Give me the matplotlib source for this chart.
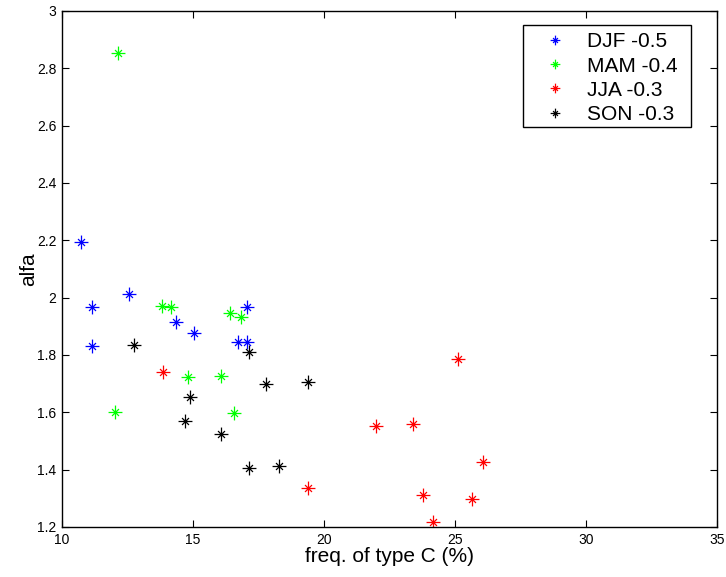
import matplotlib
matplotlib.use("Agg")
import matplotlib.pyplot as plt
from matplotlib.path import Path
from matplotlib.patches import Rectangle
from matplotlib.ticker import FuncFormatter

plt.rcParams['font.family'] = ['Liberation Sans', 'DejaVu Sans']

labels = ["DJF -0.5", "MAM -0.4", "JJA -0.3", "SON -0.3"]
colors = ["#0000ff", "#00ff00", "#ff0000", "#000000"]

djf_x = [10.71, 11.13, 11.13, 12.56, 14.35, 15.03, 17.05, 16.71, 17.05]
djf_y = [2.193, 1.967, 1.832, 2.012, 1.916, 1.877, 1.968, 1.844, 1.844]

mam_x = [12.15, 13.82, 14.16, 16.42, 16.83, 12.02, 14.82, 16.08, 16.56]
mam_y = [2.852, 1.972, 1.967, 1.947, 1.933, 1.601, 1.723, 1.728, 1.597]

jja_x = [13.85, 19.40, 25.11, 21.97, 23.39, 26.08, 23.77, 25.66, 24.15]
jja_y = [1.740, 1.337, 1.786, 1.551, 1.559, 1.428, 1.313, 1.298, 1.218]

son_x = [12.76, 17.14, 17.77, 19.39, 14.87, 14.69, 16.08, 17.14, 18.29]
son_y = [1.836, 1.811, 1.699, 1.705, 1.655, 1.570, 1.525, 1.405, 1.413]

series_x = [djf_x, mam_x, jja_x, son_x]
series_y = [djf_y, mam_y, jja_y, son_y]

# MATLAB-like asterisk: long +, shorter x
d = 0.5
verts = [(-1, 0), (1, 0), (0, -1), (0, 1), (-d, -d), (d, d), (-d, d), (d, -d)]
codes = [Path.MOVETO, Path.LINETO] * 4
ast = Path(verts, codes)

fig = plt.figure(figsize=(7.26, 5.77), dpi=100)
ax = fig.add_axes([62/726, 1-527/577, 655/726, 516/577])

for xs, ys, c, lab in zip(series_x, series_y, colors, labels):
    ax.plot(xs, ys, linestyle='none', marker=ast, markersize=10,
            markeredgecolor=c, markerfacecolor='none', markeredgewidth=0.9,
            label=lab)

ax.set_xlim(10, 35)
ax.set_ylim(1.2, 3.0)
ax.set_xticks([10, 15, 20, 25, 30, 35])
ax.set_yticks([1.2, 1.4, 1.6, 1.8, 2.0, 2.2, 2.4, 2.6, 2.8, 3.0])
ax.yaxis.set_major_formatter(FuncFormatter(lambda v, p: "%g" % round(v, 2)))
ax.tick_params(direction='in', top=True, right=True, length=5, width=0.8,
               labelsize=10, pad=4)
for s in ax.spines.values():
    s.set_linewidth(1.0)

ax.set_xlabel("freq. of type C (%)", fontsize=15, labelpad=0)
ax.set_ylabel("alfa", fontsize=15, labelpad=-1)

# legend box (drawn as a rectangle, like MATLAB's)
bx0, bx1 = (523 - 62) / 655, (691 - 62) / 655
by1, by0 = (527 - 25) / 516, (527 - 127) / 516
ax.add_patch(Rectangle((bx0, by0), bx1 - bx0, by1 - by0, transform=ax.transAxes,
                       facecolor='white', edgecolor='black', linewidth=1.0,
                       zorder=4))

leg = ax.legend(loc='upper left', bbox_to_anchor=(bx0, by1),
                borderaxespad=0, fontsize=15, frameon=False,
                markerscale=0.7, handlelength=2.37,
                handletextpad=0.35, labelspacing=0.25, borderpad=0.35,
                numpoints=1)
leg.set_zorder(5)

fig.savefig("out.png", dpi=100)
